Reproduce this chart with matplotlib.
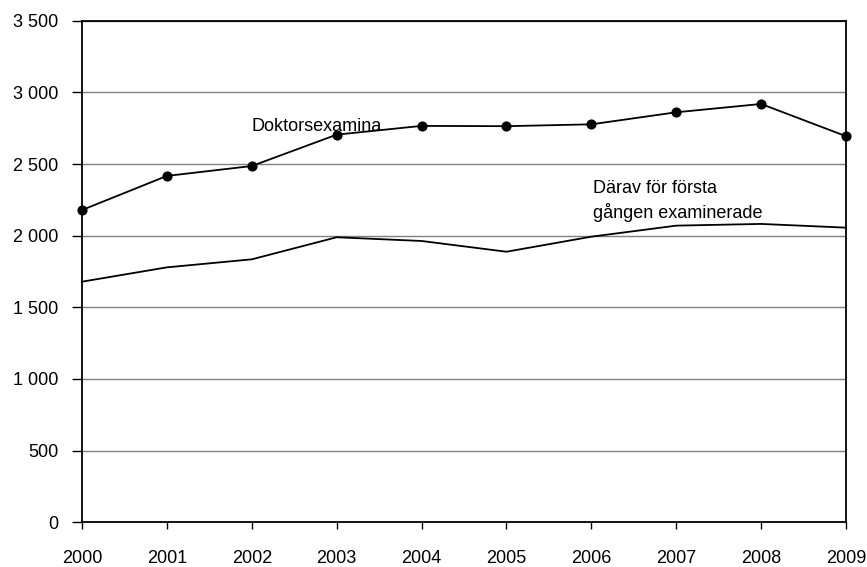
import numpy as np
import matplotlib
matplotlib.use("Agg")
import matplotlib.pyplot as plt
from matplotlib.ticker import FuncFormatter

# values
years = [2000, 2001, 2002, 2003, 2004, 2005, 2006, 2007, 2008, 2009]
doktorsexamina = [2179, 2417, 2486, 2705, 2766, 2764, 2777, 2861, 2919, 2694]
forsta_gangen = [1679, 1779, 1835, 1989, 1963, 1888, 1993, 2070, 2082, 2056]
y_ticks = [0, 500, 1000, 1500, 2000, 2500, 3000, 3500]

plt.rcParams['font.family'] = ['Liberation Sans', 'DejaVu Sans']
plt.rcParams['font.size'] = 13

fig = plt.figure(figsize=(8.67, 5.67), dpi=100)
ax = fig.add_axes([0.0946, 0.0788, 0.8812, 0.8847])

ax.plot(years, doktorsexamina, color='black', lw=1.3, marker='o', ms=6.3,
        clip_on=False, zorder=3)
ax.plot(years, forsta_gangen, color='black', lw=1.3, clip_on=False, zorder=3)

ax.text(2002.0, 2733, 'Doktorsexamina', ha='left', va='baseline')
ax.text(2006.02, 2124, 'Därav för första\ngången examinerade', ha='left',
        va='baseline', linespacing=1.38)

ax.set_xlim(2000, 2009)
ax.set_ylim(0, 3500)
ax.set_xticks(years)
ax.set_yticks(y_ticks)
ax.yaxis.set_major_formatter(FuncFormatter(lambda v, p: f"{int(v):,}".replace(',', ' ')))

ax.grid(axis='y', color='#808080', lw=1.0)
ax.set_axisbelow(True)
for s in ax.spines.values():
    s.set_color('black')
    s.set_linewidth(1.3)

ax.tick_params(axis='y', direction='out', length=7, width=1, pad=10)
ax.tick_params(axis='x', direction='out', length=5, width=1, pad=15)

fig.savefig('out.png', dpi=100)
